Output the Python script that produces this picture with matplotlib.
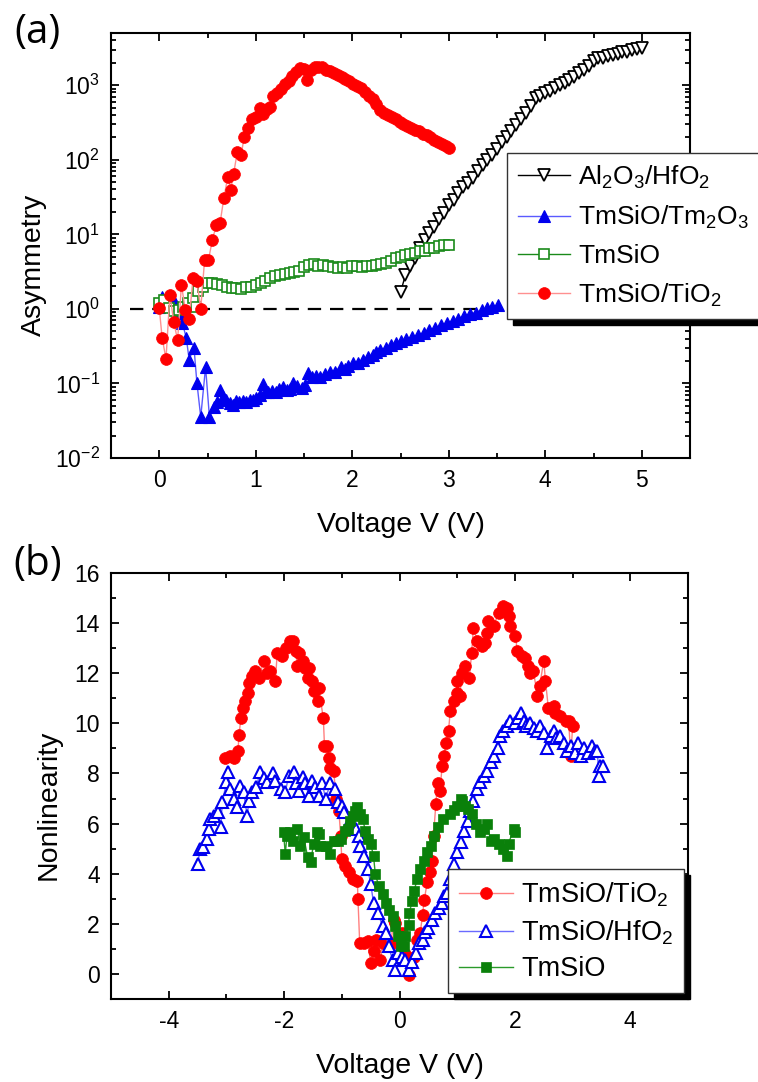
import numpy as np
import matplotlib
matplotlib.use("Agg")
import matplotlib.pyplot as plt
from matplotlib.ticker import LogLocator, MultipleLocator, NullFormatter

plt.rcParams["font.family"] = ["Liberation Sans", "DejaVu Sans"]
plt.rcParams["mathtext.fontset"] = "custom"
plt.rcParams["mathtext.rm"] = "Liberation Sans"
plt.rcParams["mathtext.it"] = "Liberation Sans:italic"
plt.rcParams["axes.unicode_minus"] = False

# ---- (a) asymmetry vs voltage, values stored as log10(asymmetry) ----
al2o3_v = [2.50, 2.55, 2.60, 2.65, 2.70, 2.75, 2.80, 2.85, 2.90, 2.95, 3.00,
           3.05, 3.10, 3.15, 3.20, 3.25, 3.30, 3.35, 3.40, 3.45, 3.50, 3.55,
           3.60, 3.65, 3.70, 3.75, 3.80, 3.85, 3.90, 3.95, 4.00, 4.05, 4.10,
           4.15, 4.20, 4.25, 4.30, 4.35, 4.40, 4.45, 4.50, 4.55, 4.60, 4.65,
           4.70, 4.75, 4.80, 4.85, 4.90, 4.95, 5.00]
al2o3_loga = [0.22, 0.45, 0.57, 0.68, 0.82, 0.93, 1.02, 1.10, 1.20, 1.28, 1.39,
              1.46, 1.56, 1.63, 1.69, 1.75, 1.85, 1.93, 2.00, 2.06, 2.15, 2.24,
              2.31, 2.38, 2.46, 2.54, 2.63, 2.72, 2.83, 2.86, 2.89, 2.92, 2.96,
              3.00, 3.03, 3.07, 3.11, 3.16, 3.20, 3.26, 3.33, 3.36, 3.37, 3.39,
              3.40, 3.42, 3.44, 3.45, 3.47, 3.48, 3.50]

tm2o3_v = [0.00, 0.03, 0.08, 0.12, 0.16, 0.20, 0.24, 0.28, 0.31, 0.36, 0.39,
           0.43, 0.48, 0.52, 0.57, 0.60, 0.63, 0.66, 0.69, 0.73, 0.76, 0.80,
           0.83, 0.87, 0.90, 0.94, 0.97, 1.00, 1.04, 1.07, 1.10, 1.13, 1.17,
           1.21, 1.24, 1.28, 1.32, 1.35, 1.39, 1.43, 1.48, 1.51, 1.54, 1.58,
           1.62, 1.67, 1.72, 1.77, 1.82, 1.88, 1.92, 1.96, 2.01, 2.06, 2.11,
           2.16, 2.21, 2.25, 2.29, 2.35, 2.40, 2.45, 2.50, 2.56, 2.62, 2.68,
           2.74, 2.80, 2.86, 2.92, 2.98, 3.04, 3.10, 3.16, 3.22, 3.28, 3.34,
           3.40, 3.45, 3.51]
tm2o3_loga = [0.03, 0.16, 0.10, 0.05, 0.08, -0.05, -0.19, -0.39, -0.68, -0.52, -0.99,
              -1.45, -0.78, -1.45, -1.31, -1.25, -1.09, -1.18, -1.22, -1.26, -1.29, -1.24,
              -1.25, -1.23, -1.25, -1.22, -1.22, -1.20, -1.15, -1.01, -1.12, -1.11, -1.10,
              -1.11, -1.08, -1.05, -1.09, -1.08, -0.99, -1.04, -1.06, -1.02, -0.86, -0.92,
              -0.90, -0.91, -0.88, -0.85, -0.84, -0.78, -0.80, -0.76, -0.73, -0.72, -0.68,
              -0.64, -0.62, -0.58, -0.55, -0.52, -0.49, -0.46, -0.43, -0.41, -0.38, -0.35,
              -0.32, -0.29, -0.26, -0.22, -0.19, -0.16, -0.13, -0.10, -0.07, -0.05, -0.02,
              0.01, 0.03, 0.05]

tmsio_v = [0.00, 0.05, 0.10, 0.15, 0.20, 0.25, 0.30, 0.35, 0.38, 0.40, 0.45,
           0.50, 0.55, 0.60, 0.65, 0.70, 0.75, 0.80, 0.85, 0.90, 0.95, 1.00,
           1.05, 1.10, 1.15, 1.20, 1.25, 1.30, 1.35, 1.40, 1.45, 1.50, 1.55,
           1.60, 1.65, 1.70, 1.75, 1.80, 1.85, 1.90, 1.95, 2.00, 2.05, 2.10,
           2.15, 2.20, 2.25, 2.30, 2.35, 2.40, 2.45, 2.50, 2.55, 2.60, 2.65,
           2.70, 2.75, 2.80, 2.85, 2.90, 2.95, 3.00]
tmsio_loga = [0.08, 0.12, 0.01, -0.03, -0.02, 0.03, 0.08, 0.15, 0.02, 0.24, 0.29,
              0.35, 0.35, 0.34, 0.32, 0.30, 0.28, 0.28, 0.27, 0.29, 0.30, 0.32,
              0.35, 0.38, 0.41, 0.44, 0.46, 0.47, 0.48, 0.49, 0.51, 0.56, 0.59,
              0.60, 0.58, 0.59, 0.58, 0.56, 0.55, 0.56, 0.55, 0.58, 0.57, 0.56,
              0.57, 0.57, 0.59, 0.60, 0.62, 0.64, 0.68, 0.69, 0.72, 0.73, 0.75,
              0.77, 0.78, 0.81, 0.82, 0.84, 0.85, 0.86]

tio2_v = [0.00, 0.03, 0.07, 0.11, 0.15, 0.19, 0.23, 0.27, 0.31, 0.35, 0.39,
          0.43, 0.47, 0.51, 0.55, 0.59, 0.63, 0.67, 0.71, 0.74, 0.77, 0.81,
          0.85, 0.88, 0.92, 0.96, 1.00, 1.04, 1.08, 1.12, 1.15, 1.18, 1.22,
          1.26, 1.30, 1.34, 1.38, 1.42, 1.46, 1.50, 1.53, 1.57, 1.61, 1.65,
          1.69, 1.73, 1.77, 1.81, 1.85, 1.89, 1.93, 1.97, 2.01, 2.05, 2.09,
          2.13, 2.17, 2.21, 2.25, 2.29, 2.33, 2.37, 2.41, 2.45, 2.49, 2.53,
          2.57, 2.61, 2.65, 2.69, 2.73, 2.77, 2.81, 2.85, 2.89, 2.93, 2.97,
          3.00]
tio2_loga = [0.01, -0.39, -0.67, 0.19, -0.17, -0.42, 0.32, -0.01, -0.14, 0.41, 0.37,
             0.00, 0.66, 0.66, 0.92, 1.12, 1.15, 1.49, 1.77, 1.60, 1.81, 2.11,
             2.07, 2.31, 2.43, 2.55, 2.58, 2.70, 2.62, 2.68, 2.71, 2.85, 2.90,
             2.95, 3.02, 3.05, 3.12, 3.18, 3.23, 3.22, 3.07, 3.20, 3.24, 3.25,
             3.24, 3.21, 3.19, 3.17, 3.14, 3.11, 3.08, 3.05, 3.02, 2.99, 2.96,
             2.91, 2.86, 2.81, 2.75, 2.67, 2.63, 2.60, 2.57, 2.54, 2.51, 2.48,
             2.45, 2.42, 2.40, 2.38, 2.35, 2.33, 2.30, 2.27, 2.24, 2.21, 2.18,
             2.16]

# ---- (b) nonlinearity vs voltage ----
nl_tio2_v = [-3.02, -2.93, -2.87, -2.80, -2.78, -2.75, -2.72, -2.67, -2.62, -2.60,
             -2.55, -2.50, -2.44, -2.35, -2.29, -2.24, -2.15, -2.12, -2.03, -1.96,
             -1.89, -1.84, -1.80, -1.77, -1.75, -1.68, -1.63, -1.59, -1.56, -1.51,
             -1.49, -1.42, -1.40, -1.32, -1.30, -1.26, -1.23, -1.20, -1.14, -1.10,
             -1.05, -1.02, -1.00, -0.94, -0.88, -0.80, -0.73, -0.72, -0.69, -0.62,
             -0.55, -0.50, -0.45, -0.40, -0.33, -0.29, -0.21, -0.15, -0.10, -0.07,
             0.00, 0.05, 0.10, 0.16, 0.25, 0.31, 0.36, 0.40, 0.43, 0.48,
             0.52, 0.56, 0.59, 0.63, 0.66, 0.70, 0.74, 0.77, 0.80, 0.85,
             0.88, 0.94, 0.99, 1.00, 1.04, 1.09, 1.14, 1.21, 1.25, 1.28,
             1.35, 1.43, 1.49, 1.52, 1.54, 1.63, 1.72, 1.80, 1.87, 1.89,
             1.92, 2.01, 2.04, 2.13, 2.18, 2.22, 2.27, 2.32, 2.39, 2.43,
             2.50, 2.53, 2.58, 2.67, 2.70, 2.79, 2.88, 2.93, 2.97, 3.00]
nl_tio2 = [8.6, 8.7, 8.6, 8.9, 9.55, 10.2, 10.6, 10.9, 11.2, 11.6,
           11.9, 12.1, 11.8, 12.5, 12.0, 12.1, 11.7, 12.8, 12.7, 13.0,
           13.3, 13.3, 12.9, 12.3, 12.8, 12.5, 12.2, 11.8, 12.2, 11.7,
           11.3, 10.9, 11.4, 10.2, 9.1, 9.1, 8.6, 8.2, 8.1, 7.0,
           6.5, 5.5, 4.6, 4.3, 4.05, 3.8, 3.7, 3.0, 1.25, 1.25,
           1.3, 0.45, 0.9, 1.35, 0.56, 1.25, 1.37, 1.2, 2.17, 2.05,
           1.6, 1.65, 0.8, -0.03, 0.68, 1.37, 1.65, 2.37, 2.97, 3.65,
           4.05, 4.5, 5.5, 6.8, 7.6, 7.3, 8.3, 8.7, 9.2, 9.7,
           10.5, 10.9, 11.2, 11.7, 11.1, 12.0, 12.3, 11.8, 12.8, 13.8,
           13.3, 13.1, 13.2, 13.6, 14.1, 13.9, 14.4, 14.7, 14.6, 14.3,
           13.9, 13.5, 12.9, 12.7, 12.6, 12.3, 12.0, 12.1, 11.1, 11.5,
           12.5, 11.7, 10.6, 10.7, 10.4, 10.3, 10.1, 10.1, 8.7, 9.9]

nl_hfo2_v = [-3.50, -3.45, -3.40, -3.33, -3.31, -3.28, -3.22, -3.15, -3.10, -3.07,
             -3.00, -2.98, -2.93, -2.87, -2.82, -2.76, -2.70, -2.64, -2.61, -2.55,
             -2.49, -2.41, -2.35, -2.29, -2.20, -2.15, -2.06, -1.98, -1.92, -1.83,
             -1.80, -1.75, -1.68, -1.63, -1.57, -1.51, -1.46, -1.40, -1.34, -1.28,
             -1.20, -1.11, -1.07, -0.99, -0.97, -0.85, -0.76, -0.71, -0.68, -0.62,
             -0.55, -0.50, -0.45, -0.38, -0.29, -0.24, -0.19, -0.12, -0.07, -0.02,
             0.05, 0.10, 0.16, 0.22, 0.28, 0.33, 0.40, 0.45, 0.50, 0.57,
             0.62, 0.68, 0.74, 0.77, 0.83, 0.88, 0.94, 1.00, 1.06, 1.11,
             1.18, 1.23, 1.28, 1.35, 1.40, 1.46, 1.52, 1.58, 1.63, 1.70,
             1.75, 1.80, 1.87, 1.92, 2.00, 2.05, 2.10, 2.15, 2.20, 2.27,
             2.33, 2.39, 2.44, 2.50, 2.56, 2.62, 2.67, 2.72, 2.79, 2.85,
             2.90, 2.97, 3.04, 3.10, 3.14, 3.20, 3.27, 3.33, 3.38, 3.43,
             3.45, 3.48, 3.52]
nl_hfo2 = [4.4, 5.0, 5.05, 5.4, 5.8, 6.2, 6.3, 6.45, 5.85, 6.85,
           7.65, 8.05, 7.4, 7.0, 6.65, 7.5, 7.25, 6.3, 6.9, 7.25,
           7.45, 8.05, 7.8, 7.65, 8.0, 7.7, 7.4, 7.25, 7.9, 8.05,
           7.6, 7.3, 7.85, 7.6, 7.1, 7.7, 7.45, 7.1, 7.6, 7.0,
           7.6, 7.4, 6.85, 6.7, 6.45, 6.1, 5.8, 5.5, 5.1, 4.7,
           4.2, 3.6, 2.85, 2.45, 1.9, 1.65, 1.1, 0.56, 0.16, 0.84,
           0.68, 0.56, 0.16, 0.48, 0.84, 1.25, 1.37, 1.69, 1.85, 2.17,
           2.45, 2.65, 2.85, 3.1, 3.25, 3.8, 4.4, 4.85, 5.25, 5.7,
           6.1, 6.5, 6.9, 7.4, 7.65, 7.9, 8.1, 8.45, 8.7, 9.0,
           9.5, 9.7, 9.9, 10.1, 10.0, 10.2, 10.4, 10.1, 9.9, 10.0,
           9.8, 9.7, 9.9, 9.6, 9.0, 9.5, 9.7, 9.4, 9.5, 9.2,
           8.9, 9.1, 8.8, 9.2, 8.7, 9.0, 8.8, 9.1, 8.9, 8.9,
           7.9, 8.3, 8.3]

nl_tmsio_v = [-2.01, -1.98, -1.95, -1.89, -1.84, -1.77, -1.72, -1.66, -1.59, -1.54,
              -1.49, -1.43, -1.40, -1.37, -1.28, -1.20, -1.14, -1.07, -1.02, -0.94,
              -0.90, -0.85, -0.81, -0.77, -0.73, -0.68, -0.64, -0.59, -0.55, -0.50,
              -0.45, -0.42, -0.36, -0.29, -0.24, -0.19, -0.12, -0.07, -0.03, 0.02,
              0.07, 0.10, 0.16, 0.17, 0.22, 0.25, 0.31, 0.36, 0.42, 0.48,
              0.54, 0.59, 0.66, 0.76, 0.88, 0.95, 1.00, 1.06, 1.09, 1.14,
              1.18, 1.26, 1.32, 1.40, 1.46, 1.52, 1.58, 1.64, 1.72, 1.80,
              1.87, 1.89, 1.98, 2.01]
nl_tmsio = [5.65, 4.8, 5.5, 5.65, 5.3, 5.8, 5.1, 5.45, 4.65, 4.45,
            5.2, 5.65, 5.6, 5.1, 5.1, 4.8, 5.3, 5.3, 5.4, 5.7,
            5.8, 6.1, 6.3, 6.5, 6.65, 6.4, 6.2, 5.7, 5.4, 5.2,
            4.7, 4.0, 3.5, 3.2, 2.85, 2.55, 2.3, 1.9, 1.5, 1.1,
            1.1, 1.5, 1.95, 2.45, 2.9, 3.3, 3.8, 4.2, 4.5, 4.85,
            5.1, 5.5, 5.85, 6.2, 6.4, 6.55, 6.7, 7.0, 6.9, 6.7,
            6.6, 6.4, 6.0, 5.65, 5.8, 6.0, 5.3, 5.4, 5.2, 5.0,
            4.7, 5.2, 5.8, 5.65]

W, H = 758, 1082
fig = plt.figure(figsize=(W / 100, H / 100), dpi=100)


def px_axes(left, top, right, bottom):
    return fig.add_axes([left / W, 1 - bottom / H, (right - left) / W, (bottom - top) / H])


def style_axes(ax):
    for sp in ax.spines.values():
        sp.set_linewidth(1.5)
    ax.tick_params(which="both", direction="in", top=True, right=True,
                   width=1.3, labelsize=16.5, pad=8)
    ax.tick_params(which="major", length=5.5)
    ax.tick_params(which="minor", length=3.5)


def shadow_legend(ax, handles, labels, anchor, loc, fontsize, labelspacing):
    leg = ax.legend(handles, labels, loc=loc, bbox_to_anchor=anchor,
                    bbox_transform=fig.transFigure, fontsize=fontsize,
                    frameon=True, fancybox=False, borderaxespad=0,
                    handlelength=2.0, handletextpad=0.3, labelspacing=labelspacing,
                    borderpad=0.4,
                    shadow={"ox": 4, "oy": -4, "facecolor": "k",
                            "edgecolor": "k", "alpha": 1})
    leg.get_frame().set_edgecolor("#333333")
    leg.get_frame().set_linewidth(1.0)
    leg.set_zorder(10)
    return leg


# ---------------- panel (a) ----------------
ax1 = px_axes(111, 33, 690, 458)
style_axes(ax1)
ax1.set_yscale("log")

h_al = ax1.plot(al2o3_v, 10 ** np.array(al2o3_loga), color="k", lw=1.0,
                marker="v", ms=8, mfc="white", mec="k", mew=1.3)[0]
h_tm = ax1.plot(tm2o3_v, 10 ** np.array(tm2o3_loga), color="#5a5aff", lw=1.0,
                marker="^", ms=8, mfc="#0000ee", mec="#0000ee", mew=0.8)[0]
h_si = ax1.plot(tmsio_v, 10 ** np.array(tmsio_loga), color="#1a8a1a", lw=1.0,
                marker="s", ms=7, mfc="white", mec="#1a8a1a", mew=1.2)[0]
h_ti = ax1.plot(tio2_v, 10 ** np.array(tio2_loga), color="#ff9090", lw=1.0,
                marker="o", ms=8.5, mfc="#ff0000", mec="#ff0000", mew=0.5)[0]
ax1.hlines(1, -0.3, 5.5, colors="k", linestyles=(0, (6, 4)), lw=1.6, zorder=1)

ax1.set_xlim(-0.5, 5.5)
ax1.set_ylim(1e-2, 10 ** 3.7)
ax1.xaxis.set_major_locator(MultipleLocator(1))
ax1.xaxis.set_minor_locator(MultipleLocator(0.5))
ax1.yaxis.set_major_locator(LogLocator(base=10, numticks=10))
ax1.yaxis.set_minor_locator(LogLocator(base=10, subs=np.arange(2, 10), numticks=10))
ax1.yaxis.set_minor_formatter(NullFormatter())
ax1.set_xlabel("Voltage V (V)", fontsize=20.5)
ax1.set_ylabel("Asymmetry", fontsize=20.5)
ax1.xaxis.set_label_coords(0.5, -0.128)
ax1.yaxis.set_label_coords(-0.111, 0.454)

shadow_legend(ax1, [h_al, h_tm, h_si, h_ti],
              ["Al$_2$O$_3$/HfO$_2$", "TmSiO/Tm$_2$O$_3$", "TmSiO", "TmSiO/TiO$_2$"],
              (507 / W, 1 - 153 / H), "upper left", 19, 0.5)

# ---------------- panel (b) ----------------
ax2 = px_axes(111, 573, 688, 999)
style_axes(ax2)

g_ti = ax2.plot(nl_tio2_v, nl_tio2, color="#ff8080", lw=1.0,
                marker="o", ms=8.5, mfc="#ff0000", mec="#ff0000", mew=0.5)[0]
g_hf = ax2.plot(nl_hfo2_v, nl_hfo2, color="#6a6aff", lw=1.0,
                marker="^", ms=8.5, mfc="white", mec="#0000ee", mew=1.5)[0]
g_si = ax2.plot(nl_tmsio_v, nl_tmsio, color="#2a9a2a", lw=1.0,
                marker="s", ms=7.5, mfc="#0a800a", mec="#0a800a", mew=0.5)[0]

ax2.set_xlim(-5, 5)
ax2.set_ylim(-1, 16)
ax2.xaxis.set_major_locator(MultipleLocator(2))
ax2.xaxis.set_minor_locator(MultipleLocator(1))
ax2.yaxis.set_major_locator(MultipleLocator(2))
ax2.yaxis.set_minor_locator(MultipleLocator(1))
ax2.set_xlabel("Voltage V (V)", fontsize=20.5)
ax2.set_ylabel("Nonlinearity", fontsize=20.5)
ax2.xaxis.set_label_coords(0.5, -0.127)
ax2.yaxis.set_label_coords(-0.085, 0.455)

shadow_legend(ax2, [g_ti, g_hf, g_si],
              ["TmSiO/TiO$_2$", "TmSiO/HfO$_2$", "TmSiO"],
              (684 / W, 1 - 993 / H), "lower right", 19.5, 0.35)

fig.text(38 / W, 1 - 33 / H, "(a)", fontsize=29, family="Open Sans",
         ha="center", va="center")
fig.text(38 / W, 1 - 565 / H, "(b)", fontsize=29, family="Open Sans",
         ha="center", va="center")

fig.savefig("out.png", dpi=100)
